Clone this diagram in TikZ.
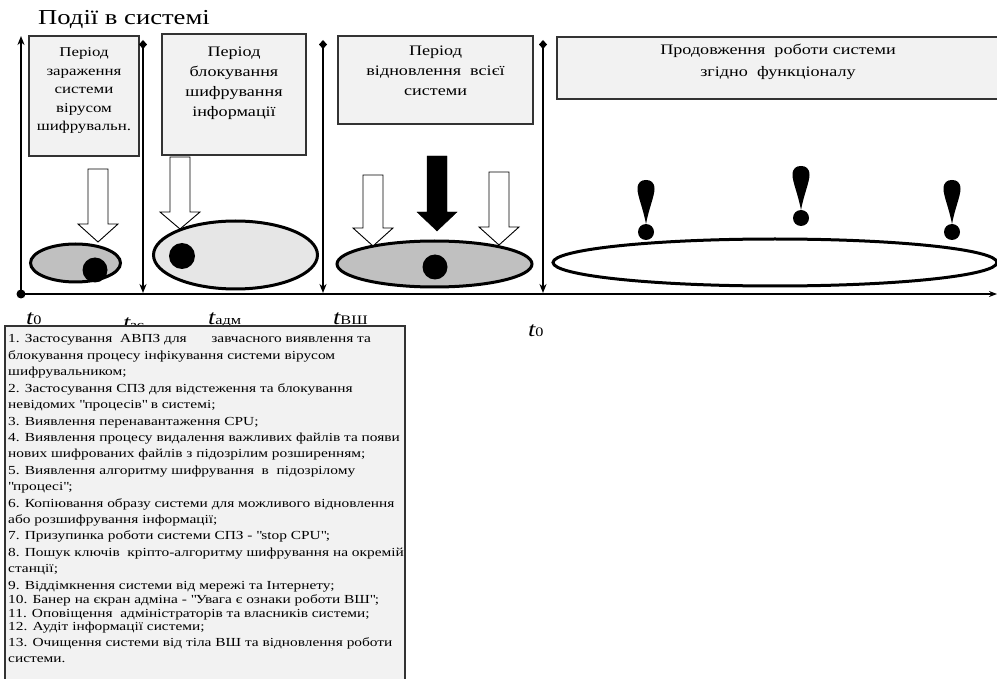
\documentclass[tikz,border=0pt]{standalone}
\usepackage{fontspec}
\setmainfont[FakeStretch=1.25]{Liberation Serif}
\usetikzlibrary{arrows.meta,shapes.geometric}
\definecolor{boxgray}{HTML}{F2F2F2}
\definecolor{ellgray}{HTML}{C0C0C0}
\definecolor{dotgray}{HTML}{E6E6E6}
\begin{document}
\begin{tikzpicture}[x=1pt,y=-1pt,
  period/.style={draw=black!80,line width=1.2pt,fill=boxgray},
  pline/.style={anchor=base,inner sep=0pt,font=\fontsize{14.5}{16}\selectfont},
  pline1/.style={anchor=base,inner sep=0pt,font=\fontsize{13.5}{16}\selectfont},
  oval/.style={line width=3pt},
  vline/.style={line width=2pt},
  hollow/.style={draw=black,line width=0.9pt,fill=white},
  tlab/.style={anchor=base west,inner sep=0pt},
  lst/.style={anchor=base west,inner sep=0pt,font=\fontsize{12.3}{14}\selectfont}]
\useasboundingbox (0,0) rectangle (997,679);
\newcommand{\tl}[1]{{\fontsize{21}{21}\selectfont\itshape t}{\fontsize{13}{13}\selectfont #1}}
\newcommand{\qd}{\textquotedbl}
% title
\node[anchor=base west,inner sep=0pt,font=\fontsize{21.3}{26}\selectfont] (title) at (38,25) {Події в системі};
% period boxes
\draw[period] (29,36) rectangle (139,156);
\node[pline1] (p1a) at (84,57) {Період};
\node[pline1] (p1b) at (84,75.5) {зараження};
\node[pline1] (p1c) at (84,94) {системи};
\node[pline1] (p1d) at (84,112.5) {вірусом};
\node[pline1] (p1e) at (84,131) {шифрувальн.};
\draw[period] (162,34) rectangle (306,155);
\node[pline] (p2a) at (234,57) {Період};
\node[pline] (p2b) at (234,77) {блокування};
\node[pline] (p2c) at (234,97) {шифрування};
\node[pline] (p2d) at (234,117) {інформації};
\draw[period] (338,36) rectangle (533,124);
\node[pline] (p3a) at (435.5,56) {Період};
\node[pline] (p3b) at (435.5,76) {відновлення\ \ всієї};
\node[pline] (p3c) at (435.5,96) {системи};
\draw[period] (557,37) rectangle (1000,99);
\node[pline] (p4a) at (778,55) {Продовження\ \ роботи системи};
\node[pline] (p4b) at (778,77) {згідно\ \ функціоналу};
% axis
\coordinate (o) at (21,294);
\coordinate (xend) at (997,294);
\coordinate (ytop) at (21,36);
\draw[vline,-{Stealth[length=8pt,width=6pt]}] (o) -- (xend);
\draw[vline,-{Stealth[length=9pt,width=7pt]}] (o) -- (ytop);
\fill (o) circle (4.5);
% time boundary lines
\foreach \n/\xx in {a/143,b/323,c/543}{
  \coordinate (\n top) at (\xx,40);
  \coordinate (\n bot) at (\xx,293);
  \draw[vline,{Diamond[length=9pt,width=8pt]}-{Stealth[length=9pt,width=7pt]}] (\n top) -- (\n bot);
}
% ellipses
\node[draw,oval,fill=ellgray,ellipse,minimum width=90pt,minimum height=38pt,inner sep=0pt] (e1) at (75.5,263) {};
\fill (95,270) circle (12.5);
\node[draw,oval,fill=dotgray,ellipse,minimum width=164pt,minimum height=68pt,inner sep=0pt] (e2) at (235.5,255) {};
\fill (182,256) circle (13);
\node[draw,oval,fill=ellgray,ellipse,minimum width=195pt,minimum height=46pt,inner sep=0pt] (e3) at (434.5,264) {};
\fill (435,267) circle (12.5);
\node[draw,oval,fill=white,ellipse,minimum width=444pt,minimum height=47pt,inner sep=0pt] (e4) at (775,262.5) {};
% block arrows: shaft half-width 10, head half-width 20
\newcommand{\blockarrow}[5]{% style, x, top, headstart, tip
  \draw[#1] (#2-10,#3) -- (#2+10,#3) -- (#2+10,#4) -- (#2+20,#4) -- (#2,#5) -- (#2-20,#4) -- (#2-10,#4) -- cycle;}
\blockarrow{hollow}{98}{169}{224}{242}
\blockarrow{hollow}{180}{157}{212}{229}
\blockarrow{hollow}{373}{175}{228}{246}
\blockarrow{fill=black,draw=black}{437}{156}{212}{231}
\blockarrow{hollow}{499}{172}{227}{245}
% exclamation marks
\newcommand{\excl}[2]{% x, top
  \fill (#1,#2+44) .. controls (#1-3,#2+28) and (#1-8.5,#2+16) .. (#1-8.5,#2+9)
     .. controls (#1-8.5,#2+2) and (#1-4.5,#2) .. (#1,#2)
     .. controls (#1+4.5,#2) and (#1+8.5,#2+2) .. (#1+8.5,#2+9)
     .. controls (#1+8.5,#2+16) and (#1+3,#2+28) .. (#1,#2+44) -- cycle;
  \fill (#1,#2+52) circle (8);}
\excl{646}{180}
\excl{801}{166}
\excl{952}{180}
% time labels
\node[tlab] (t0a) at (26,325) {\tl{0}};
\node[tlab] (tzs) at (123,330) {\tl{зс}};
\node[tlab] (tadm) at (208,325) {\tl{адм}};
\node[tlab] (tvsh) at (333,325) {\tl{ВШ}};
\node[tlab] (t0b) at (528,337) {\tl{0}};
% list box
\draw[draw=black!80,line width=1.2pt,fill=boxgray] (5,682) -- (5,326) -- (405,326) -- (405,682);
\node[lst] (l1) at (8,343) {1. Застосування\ \ АВПЗ для\qquad завчасного виявлення та};
\node[lst] (l2) at (8,359.4) {блокування процесу інфікування системи вірусом};
\node[lst] (l3) at (8,375.8) {шифрувальником;};
\node[lst] (l4) at (8,392.2) {2. Застосування СПЗ для відстеження та блокування};
\node[lst] (l5) at (8,408.6) {невідомих \qd процесів\qd\ в системі;};
\node[lst] (l6) at (8,425) {3. Виявлення перенавантаження CPU;};
\node[lst] (l7) at (8,441.4) {4. Виявлення процесу видалення важливих файлів та появи};
\node[lst] (l8) at (8,457.8) {нових шифрованих файлів з підозрілим розширенням;};
\node[lst] (l9) at (8,474.2) {5. Виявлення алгоритму шифрування\ \ в\ \ підозрілому};
\node[lst] (l10) at (8,490.6) {\qd процесі\qd;};
\node[lst] (l11) at (8,507) {6. Копіювання образу системи для можливого відновлення};
\node[lst] (l12) at (8,523.4) {або розшифрування інформації;};
\node[lst] (l13) at (8,539.8) {7. Призупинка роботи системи СПЗ - \qd stop CPU\qd;};
\node[lst] (l14) at (8,556.2) {8. Пошук ключів\ \ кріпто-алгоритму шифрування на окремій};
\node[lst] (l15) at (8,572.6) {станції;};
\node[lst] (l16) at (8,589) {9. Віддімкнення системи від мережі та Інтернету;};
\node[lst] (l17) at (8,603.6) {10. Банер на єкран адміна - \qd Увага є ознаки роботи ВШ\qd;};
\node[lst] (l18) at (8,617.2) {11. Оповіщення\ \ адміністраторів та власників системи;};
\node[lst] (l19) at (8,630.8) {12. Аудіт інформації системи;};
\node[lst] (l20) at (8,646.4) {13. Очищення системи від тіла ВШ та відновлення роботи};
\node[lst] (l21) at (8,662) {системи.};
\end{tikzpicture}
\end{document}
